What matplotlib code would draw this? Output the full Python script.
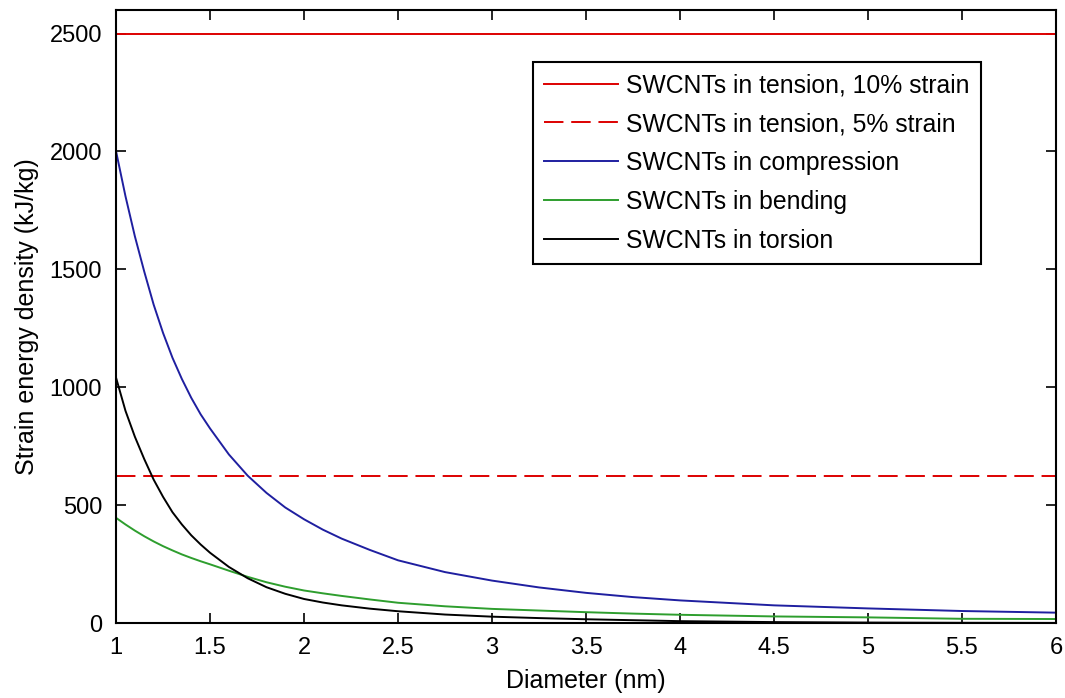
import numpy as np
import matplotlib.pyplot as plt

plt.rcParams['font.family'] = ['Liberation Sans', 'DejaVu Sans']

# diameter (nm)
diameter = [1, 1.05, 1.1, 1.15, 1.2, 1.25, 1.3, 1.35, 1.4, 1.45, 1.5, 1.6, 1.7,
            1.8, 1.9, 2, 2.1, 2.2, 2.35, 2.5, 2.75, 3, 3.25, 3.5, 3.75, 4, 4.5,
            5, 5.5, 6]

# strain energy density (kJ/kg)
tension_10 = [2500] * len(diameter)
tension_5 = [625] * len(diameter)
compression = [2000, 1810, 1640, 1490, 1350, 1230, 1125, 1035, 955, 885, 825,
               715, 625, 552, 490, 440, 396, 358, 310, 266, 216, 180, 151, 128,
               110, 96, 75, 62, 51, 44]
bending = [446, 418, 392, 368, 346, 326, 308, 291, 276, 262, 249, 222, 196,
           173, 154, 138, 126, 115, 100, 86, 71, 60, 53, 46, 40, 35, 28, 24,
           18, 17]
torsion = [1040, 900, 790, 695, 608, 535, 470, 418, 372, 333, 298, 238, 190,
           152, 124, 102, 87, 75, 61, 50, 36, 27, 21, 16, 12, 8, 4, 2, 1, 0.5]

labels = ['SWCNTs in tension, 10% strain', 'SWCNTs in tension, 5% strain',
          'SWCNTs in compression', 'SWCNTs in bending', 'SWCNTs in torsion']

fig = plt.figure(figsize=(10.65, 6.98), dpi=100)
ax = fig.add_axes([0.109, 0.1074, 0.8825, 0.8783])

lw = 1.4
ax.plot(diameter, tension_10, color='#dd0000', lw=lw, label=labels[0])
ax.plot(diameter, tension_5, color='#dd0000', lw=lw, dashes=(10, 4), label=labels[1])
ax.plot(diameter, compression, color='#1f1fa0', lw=lw, label=labels[2])
ax.plot(diameter, bending, color='#2e9e2e', lw=lw, label=labels[3])
ax.plot(diameter, torsion, color='black', lw=lw, label=labels[4])

ax.set_xlim(1, 6)
ax.set_ylim(0, 2600)
ax.set_xticks(np.arange(1, 6.01, 0.5))
ax.set_xticklabels(['1', '1.5', '2', '2.5', '3', '3.5', '4', '4.5', '5', '5.5', '6'])
ax.set_yticks(np.arange(0, 2501, 500))
ax.tick_params(direction='in', top=True, right=True, length=7, width=1.2,
               labelsize=17, pad=10)
for s in ax.spines.values():
    s.set_linewidth(1.5)

ax.set_xlabel('Diameter (nm)', fontsize=18, labelpad=7)
ax.set_ylabel('Strain energy density (kJ/kg)', fontsize=18, labelpad=8)

leg = ax.legend(loc='upper right', bbox_to_anchor=(0.920, 0.915), borderaxespad=0,
                fontsize=17.8, fancybox=False, edgecolor='black', framealpha=1,
                handlelength=3.0, handletextpad=0.33, labelspacing=0.6,
                borderpad=0.45)
leg.get_frame().set_linewidth(1.5)

fig.savefig('out.png', dpi=100)
